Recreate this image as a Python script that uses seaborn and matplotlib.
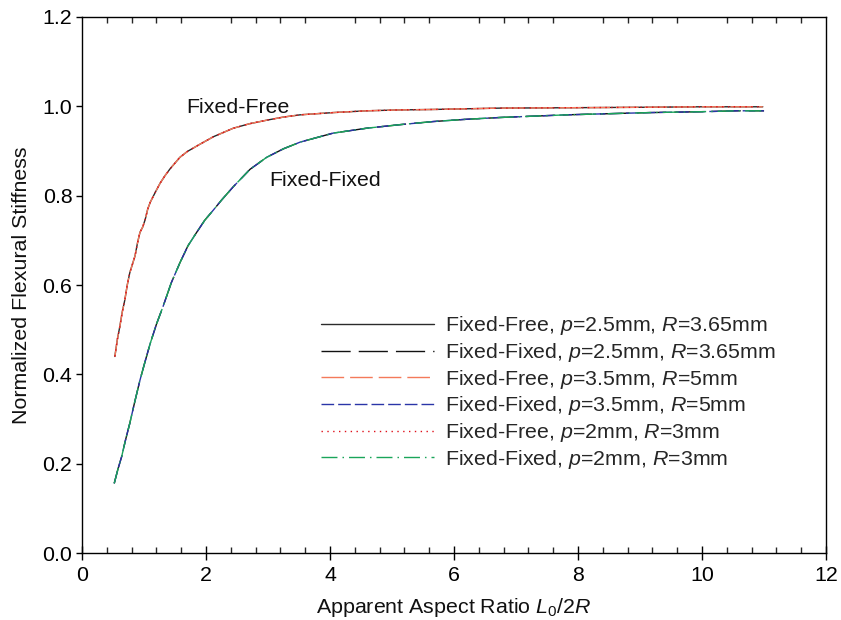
import numpy as np
import pandas as pd
import matplotlib
matplotlib.use("Agg")
import matplotlib.pyplot as plt
from matplotlib.ticker import MultipleLocator
import seaborn as sns

# Normalized flexural stiffness vs. apparent aspect ratio L0/2R
x_free = [0.53, 0.57, 0.61, 0.65, 0.69, 0.73, 0.77, 0.81, 0.855, 0.895, 0.935,
          0.98, 1.02, 1.06, 1.10, 1.18, 1.26, 1.34, 1.42, 1.50, 1.58, 1.70,
          1.90, 2.12, 2.44, 2.70, 2.98, 3.25, 3.52, 4.05, 4.59, 5.13, 5.67,
          6.74, 8.00, 9.16, 10.0, 10.98]
y_free = [0.440, 0.478, 0.507, 0.540, 0.566, 0.600, 0.627, 0.645, 0.665, 0.694,
          0.718, 0.730, 0.747, 0.770, 0.785, 0.807, 0.828, 0.845, 0.860, 0.873,
          0.886, 0.899, 0.915, 0.932, 0.951, 0.961, 0.969, 0.976, 0.981, 0.986,
          0.990, 0.992, 0.993, 0.996, 0.997, 0.998, 0.999, 0.999]

x_fixed = [0.52, 0.58, 0.64, 0.70, 0.77, 0.85, 0.935, 1.02, 1.10, 1.20, 1.31,
           1.44, 1.58, 1.71, 1.85, 1.98, 2.12, 2.25, 2.44, 2.71, 2.98, 3.25,
           3.52, 4.05, 4.59, 5.13, 5.67, 6.20, 6.74, 7.82, 9.16, 10.0, 10.57,
           11.0]
y_fixed = [0.156, 0.188, 0.216, 0.252, 0.290, 0.338, 0.387, 0.430, 0.469, 0.512,
           0.553, 0.605, 0.650, 0.688, 0.718, 0.745, 0.768, 0.790, 0.820, 0.859,
           0.886, 0.905, 0.920, 0.940, 0.951, 0.959, 0.966, 0.971, 0.975, 0.981,
           0.986, 0.988, 0.990, 0.990]

pitches = ["2.5", "2.5", "3.5", "3.5", "2", "2"]
radii = ["3.65", "3.65", "5", "5", "3", "3"]
supports = ["Fixed-Free", "Fixed-Fixed", "Fixed-Free", "Fixed-Fixed",
            "Fixed-Free", "Fixed-Fixed"]
colors = ["#2b2b2b", "#111111", "#f47a5a", "#2a35a8", "#e0101a", "#1aa55a"]
styles = ["-", (0, (21, 5.8)), (0, (16.3, 4.3)), (0, (9.1, 2.9)),
          (0, (1.0, 3.2)), (0, (11.5, 3.6, 1.1, 3.6))]

sns.set_theme(style="white")
plt.rcParams["font.family"] = ["Liberation Sans", "DejaVu Sans"]
plt.rcParams["mathtext.fontset"] = "custom"
plt.rcParams["mathtext.rm"] = "Liberation Sans"
plt.rcParams["mathtext.it"] = "Liberation Sans:italic"
plt.rcParams["mathtext.default"] = "regular"

fs = 15.4

fig = plt.figure(figsize=(8.41, 6.20), dpi=100)
ax = fig.add_axes([0.0975, 0.108, 0.8847, 0.8646])

for sup, p, r, c, ls in zip(supports, pitches, radii, colors, styles):
    if sup == "Fixed-Free":
        df = pd.DataFrame({"x": x_free, "y": y_free})
    else:
        df = pd.DataFrame({"x": x_fixed, "y": y_fixed})
    label = f"{sup}, $\\mathit{{p}}$={p}mm, $\\mathit{{R}}$={r}mm"
    sns.lineplot(data=df, x="x", y="y", ax=ax, color=c, linestyle=ls,
                 linewidth=1.0, sort=False, estimator=None, label=label)

ax.set_xlim(0, 12)
ax.set_ylim(0, 1.2)
ax.xaxis.set_minor_locator(MultipleLocator(0.4))
ax.set_xticks(np.arange(0, 13, 2))
ax.set_xticklabels([f"{v:d}" for v in range(0, 13, 2)])
ax.set_yticks(np.arange(0, 1.21, 0.2))
ax.set_yticklabels([f"{v:.1f}" for v in np.arange(0, 1.21, 0.2)])

ax.tick_params(axis="x", which="major", direction="inout", length=10, width=1.0,
               top=False, bottom=True, labelsize=fs, pad=4, colors="black")
ax.tick_params(axis="x", which="minor", direction="in", length=4.5, width=1.0,
               top=True, bottom=True)
ax.tick_params(axis="y", which="major", direction="out", length=4, width=1.0,
               left=True, right=False, labelsize=fs, pad=3, colors="black")
ax.tick_params(axis="y", which="minor", left=False, right=False)

for s in ax.spines.values():
    s.set_color("black")
    s.set_linewidth(1.0)

ax.set_xlabel("Apparent Aspect Ratio $\\mathit{L_0}$/2$\\mathit{R}$",
              fontsize=fs, color="#111111", labelpad=8)
ax.set_ylabel("Normalized Flexural Stiffness", fontsize=fs, color="#111111",
              labelpad=8)

ax.text(1.68, 0.984, "Fixed-Free", fontsize=fs, color="#111111",
        ha="left", va="baseline")
ax.text(3.02, 0.822, "Fixed-Fixed", fontsize=fs, color="#111111",
        ha="left", va="baseline")

ax.legend(loc="upper left", bbox_to_anchor=(0.321, 0.445), frameon=False,
          fontsize=fs, handlelength=5.3, handletextpad=0.5, labelspacing=0.17,
          borderpad=0, borderaxespad=0)

fig.savefig("out.png", dpi=100, facecolor="white")
